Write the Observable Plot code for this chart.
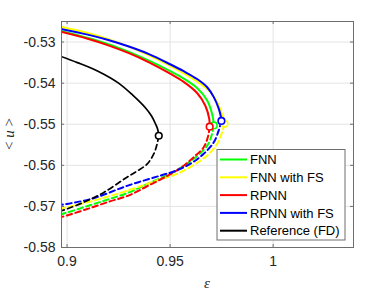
<!DOCTYPE html>
<html><head><meta charset="utf-8">
<script src="https://cdn.jsdelivr.net/npm/d3@7"></script>
<script src="https://cdn.jsdelivr.net/npm/@observablehq/plot@0.6"></script>
<style>body{margin:0;background:#fff;} svg{display:block;}</style>
</head><body><div id="chart"></div>
<script>
const seriesNames = ["FNN", "FNN with FS", "RPNN", "RPNN with FS", "Reference (FD)"];
const seriesColors = ["#00ff00", "#ffff00", "#ff0000", "#0000ff", "#000000"];
const xTicks = [0.9, 0.95, 1];
const yTicks = [-0.58, -0.57, -0.56, -0.55, -0.54, -0.53];
const xDomain = [0.8973, 1.039];
const yDomain = [-0.58, -0.525];

// [epsilon, <u>] — stable (upper, solid) and unstable (lower, dashed) branches
const fnnUpper = [[0.897,-0.5273],[0.91,-0.5290],[0.92,-0.5305],[0.93,-0.5324],[0.94,-0.5346],[0.95,-0.5371],[0.9566,-0.5389],[0.9631,-0.5412],[0.968,-0.5442],[0.9704,-0.5475],[0.9711,-0.5495],[0.9712,-0.5503]];
const fnnLower = [[0.9712,-0.5503],[0.9704,-0.5523],[0.968,-0.5552],[0.962,-0.5582],[0.956,-0.5603],[0.95,-0.5621],[0.94,-0.5643],[0.93,-0.5666],[0.92,-0.5683],[0.91,-0.5699],[0.9,-0.5715],[0.897,-0.5719]];
const fnnFsUpper = [[0.897,-0.5263],[0.91,-0.5278],[0.92,-0.5293],[0.93,-0.5311],[0.94,-0.5333],[0.95,-0.5358],[0.9566,-0.5376],[0.9631,-0.5396],[0.9696,-0.5422],[0.9736,-0.5454],[0.9757,-0.5483],[0.9764,-0.5499]];
const fnnFsLower = [[0.9764,-0.5499],[0.9752,-0.5520],[0.9728,-0.5548],[0.968,-0.5576],[0.9615,-0.5599],[0.9534,-0.5621],[0.9453,-0.5634],[0.9291,-0.5662],[0.9129,-0.5686],[0.9,-0.5702],[0.897,-0.5705]];
const rpnnUpper = [[0.897,-0.5275],[0.91,-0.5292],[0.92,-0.5308],[0.93,-0.5327],[0.94,-0.5350],[0.95,-0.5377],[0.9566,-0.5397],[0.9631,-0.5424],[0.9671,-0.5455],[0.969,-0.5487],[0.9692,-0.5506]];
const rpnnLower = [[0.9692,-0.5506],[0.9685,-0.5528],[0.9663,-0.5556],[0.9615,-0.5580],[0.9566,-0.5601],[0.95,-0.5622],[0.94,-0.5648],[0.93,-0.5673],[0.92,-0.5689],[0.91,-0.5706],[0.9,-0.5722],[0.897,-0.5726]];
const rpnnFsUpper = [[0.897,-0.5268],[0.91,-0.5282],[0.92,-0.5295],[0.93,-0.5311],[0.94,-0.5330],[0.95,-0.5354],[0.9566,-0.5371],[0.9631,-0.5390],[0.968,-0.5410],[0.9712,-0.5434],[0.9736,-0.5462],[0.9747,-0.5483],[0.9749,-0.5492]];
const rpnnFsLower = [[0.9749,-0.5492],[0.9736,-0.5515],[0.9712,-0.5544],[0.9663,-0.5572],[0.9599,-0.5596],[0.9518,-0.5615],[0.9453,-0.5625],[0.9291,-0.5650],[0.9129,-0.5680],[0.9,-0.5694],[0.897,-0.5696]];
const refUpper = [[0.897,-0.5335],[0.905,-0.5350],[0.915,-0.5371],[0.925,-0.5400],[0.932,-0.5430],[0.938,-0.5460],[0.941,-0.5480],[0.943,-0.5500],[0.944,-0.5513],[0.9445,-0.5528]];
const refLower = [[0.9445,-0.5528],[0.9437,-0.5548],[0.942,-0.5573],[0.9388,-0.5597],[0.934,-0.5614],[0.9291,-0.5629],[0.9178,-0.5666],[0.9081,-0.5690],[0.9,-0.5706],[0.897,-0.5711]];

const upperBranches = [fnnUpper, fnnFsUpper, rpnnUpper, rpnnFsUpper, refUpper];
const lowerBranches = [fnnLower, fnnFsLower, rpnnLower, rpnnFsLower, refLower];
const lineWidths = [2, 2, 2, 2, 1.7];

const W = 390, H = 293, mL = 61, mR = 37, mT = 21, mB = 46;
const innerW = W - mL - mR, innerH = H - mT - mB;
const axisColor = "#6e6e6e", textColor = "#262626";

const marks = [
  Plot.gridX(xTicks, {stroke: "#e3e3e3", strokeOpacity: 1}),
  Plot.gridY(yTicks, {stroke: "#e3e3e3", strokeOpacity: 1}),
];
seriesNames.forEach((name, i) => {
  marks.push(Plot.line(upperBranches[i], {x: d => d[0], y: d => d[1], stroke: seriesColors[i], strokeWidth: lineWidths[i], curve: "catmull-rom", clip: true}));
  marks.push(Plot.line(lowerBranches[i], {x: d => d[0], y: d => d[1], stroke: seriesColors[i], strokeWidth: lineWidths[i], strokeDasharray: "5.5,3.5", curve: "catmull-rom", clip: true}));
});
seriesNames.forEach((name, i) => {
  const f = upperBranches[i][upperBranches[i].length - 1];
  marks.push(Plot.dot([f], {x: d => d[0], y: d => d[1], r: 3.3, stroke: seriesColors[i], fill: "white", strokeWidth: 1.6}));
});
marks.push(
  Plot.frame({stroke: axisColor}),
  Plot.tickX(xTicks, {x: d => d, insetTop: innerH - 3, stroke: axisColor}),
  Plot.tickX(xTicks, {x: d => d, insetBottom: innerH - 3, stroke: axisColor}),
  Plot.tickY(yTicks, {y: d => d, insetLeft: innerW - 3, stroke: axisColor}),
  Plot.tickY(yTicks, {y: d => d, insetRight: innerW - 3, stroke: axisColor}),
  Plot.axisX(xTicks, {tickSize: 0, tickPadding: 9, tickFormat: d => String(d), label: null, fill: textColor}),
  Plot.axisY(yTicks, {tickSize: 0, tickPadding: 6, tickFormat: d => d.toFixed(2), label: null, fill: textColor})
);

const chart = Plot.plot({
  width: W, height: H,
  marginLeft: mL, marginRight: mR, marginTop: mT, marginBottom: mB,
  x: {domain: xDomain},
  y: {domain: yDomain},
  style: {fontFamily: "'Liberation Sans', Arial, sans-serif", fontSize: "14px", color: textColor, background: "white", overflow: "visible"},
  marks
});
document.getElementById("chart").appendChild(chart);

const svg = d3.select(chart);
// axis labels
const yl = svg.append("text")
  .attr("transform", `translate(14,${mT + innerH / 2}) rotate(-90)`)
  .attr("text-anchor", "middle")
  .attr("font-family", "'Liberation Serif', 'DejaVu Serif', serif")
  .attr("font-size", 15).attr("fill", textColor);
yl.append("tspan").text("< ");
yl.append("tspan").attr("font-style", "italic").text("u");
yl.append("tspan").text(" >");
svg.append("text")
  .attr("x", mL + innerW / 2).attr("y", 288)
  .attr("text-anchor", "middle")
  .attr("font-family", "'Liberation Serif', 'DejaVu Serif', serif")
  .attr("font-style", "italic")
  .attr("font-size", 15).attr("fill", textColor)
  .text("ε");

// legend
const lg = svg.append("g").attr("transform", "translate(217,149.5)");
lg.append("rect").attr("width", 128).attr("height", 90.5).attr("fill", "white").attr("stroke", axisColor);
seriesNames.forEach((name, i) => {
  const cy = 10 + i * 17.8;
  lg.append("line").attr("x1", 3).attr("x2", 30).attr("y1", cy).attr("y2", cy)
    .attr("stroke", seriesColors[i]).attr("stroke-width", 2);
  lg.append("text").attr("x", 33).attr("y", cy).attr("dy", "0.36em")
    .attr("text-anchor", "start")
    .attr("font-family", "'Liberation Sans', Arial, sans-serif").attr("font-size", 13)
    .attr("fill", "#000").text(name);
});
</script>
</body></html>
